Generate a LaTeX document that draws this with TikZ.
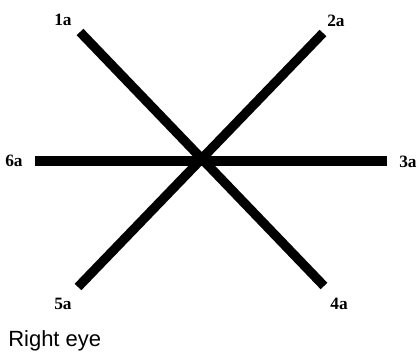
\documentclass[tikz,border=0pt]{standalone}
\usepackage{fontspec}
\setmainfont{Liberation Serif}
\newfontfamily\capfont{Liberation Sans}
\usetikzlibrary{positioning}

\begin{document}
\begin{tikzpicture}[x=0.75pt, y=-0.75pt,
    arm/.style={line width=7pt, black},
    tag/.style={font=\bfseries\fontsize{13}{15}\selectfont, inner sep=0pt}]
    \useasboundingbox (0,0) rectangle (419,356);

    % Arm ends
    \coordinate (c) at (202,161);
    \coordinate (e1) at (80,32);
    \coordinate (e2) at (323,33);
    \coordinate (e3) at (387,161);
    \coordinate (e4) at (324,286);
    \coordinate (e5) at (78,287);
    \coordinate (e6) at (35,161);

    % Arms
    \draw[arm] (e1) -- (e4);
    \draw[arm] (e2) -- (e5);
    \draw[arm] (e6) -- (e3);

    % Labels
    \node[tag] (l1) at (63,20) {1a};
    \node[tag] (l2) at (336,21) {2a};
    \node[tag] (l3) at (408,162) {3a};
    \node[tag] (l4) at (339,304) {4a};
    \node[tag] (l5) at (63,304) {5a};
    \node[tag] (l6) at (14,161) {6a};

    \node[anchor=base west, inner sep=0pt, font=\capfont\fontsize{16.5}{18}\selectfont] (eye) at (8,347) {Right eye};
\end{tikzpicture}
\end{document}
